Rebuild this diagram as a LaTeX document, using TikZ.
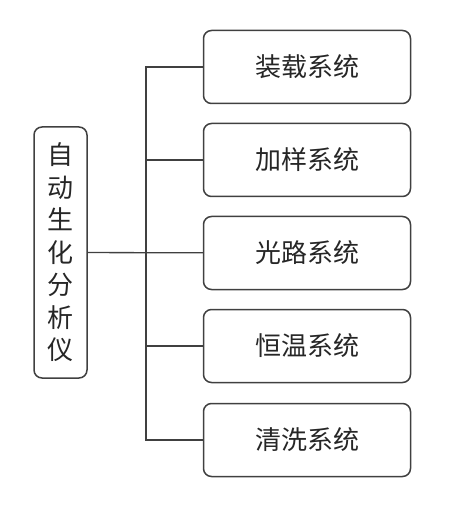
\documentclass[tikz,border=0pt]{standalone}
\usepackage{fontspec}
\usepackage{xcolor}
\newfontfamily\cjk{Noto Sans CJK SC}
\definecolor{linegray}{HTML}{404040}

\begin{document}
\begin{tikzpicture}[x=1pt,y=-1pt,
  sysbox/.style={shape=rectangle,draw=linegray,line width=1.5pt,rounded corners=8pt,
    minimum width=207pt,minimum height=73pt,text=black!85,
    font=\cjk\fontsize{26}{30}\selectfont},
  rootbox/.style={shape=rectangle,draw=linegray,line width=1.5pt,rounded corners=8pt,
    minimum width=53pt,minimum height=251pt,align=center,inner sep=0pt,text=black!85,
    font=\cjk\fontsize{26}{32.5}\selectfont},
  link/.style={draw=linegray,line width=1.3pt}]
  \useasboundingbox (0,0) rectangle (457,510);

  % vertices
  \node[rootbox] (root) at (60.5,252.5) {自\\动\\生\\化\\分\\析\\仪};
  \node[sysbox] (s1) at (307,67) {装载系统};
  \node[sysbox] (s2) at (307,160) {加样系统};
  \node[sysbox] (s3) at (307,253) {光路系统};
  \node[sysbox] (s4) at (307,346) {恒温系统};
  \node[sysbox] (s5) at (307,440) {清洗系统};
  \coordinate (top) at (146,67);
  \coordinate (bot) at (146,440);

  % edges
  \path[link] (root) -- (s3);
  \path[link] (s1) -| (bot) -- (s5);
  \path[link] (s2.west) -- (s2.west -| top);
  \path[link] (s4.west) -- (s4.west -| top);
\end{tikzpicture}
\end{document}
